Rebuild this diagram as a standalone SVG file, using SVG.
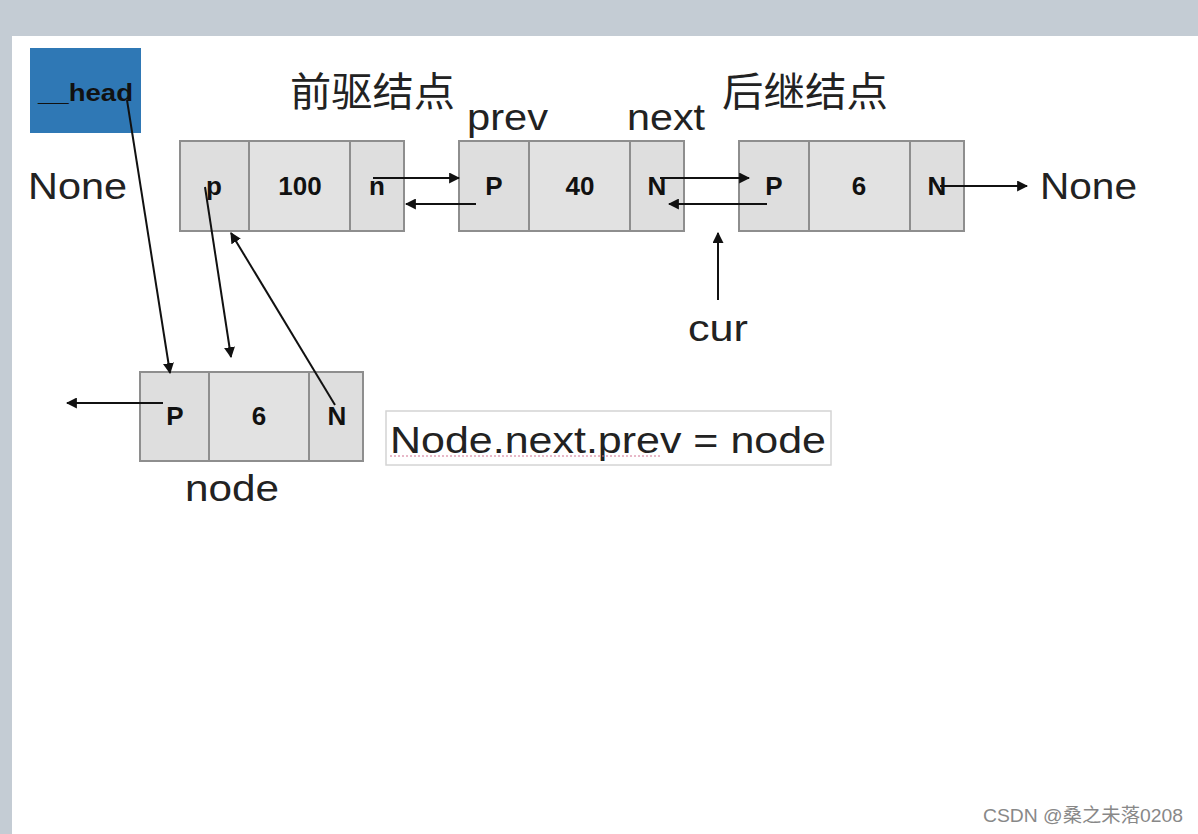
<svg xmlns="http://www.w3.org/2000/svg" width="1198" height="834" viewBox="0 0 1198 834">
<style>
.cell{fill:#dedede;stroke:#8e8e8e;stroke-width:2}
.mid{fill:#e2e2e2;stroke:#8e8e8e;stroke-width:2}
.lbl{font-family:"Liberation Sans",Arial,sans-serif;font-weight:bold;font-size:26px;fill:#111;text-anchor:middle}
.big{font-family:"Liberation Sans",Arial,sans-serif;font-size:37px;fill:#222}
.cn{font-family:"Noto Sans CJK SC",sans-serif;font-size:40px;fill:#222}
.ln{stroke:#111;stroke-width:2;fill:none;marker-end:url(#ah)}
</style>
<defs>
<marker id="ah" viewBox="0 0 10 10" refX="9" refY="5" markerWidth="5.5" markerHeight="5.5" orient="auto" markerUnits="strokeWidth">
<path d="M0,0 L10,5 L0,10 z" fill="#111"/>
</marker>
</defs>
<rect x="0" y="0" width="1198" height="834" fill="#c4ccd4"/>
<rect x="12" y="36" width="1186" height="798" fill="#ffffff"/>

<g id="head">
<rect x="30" y="48" width="111" height="85" fill="#2f78b5"/>
<text x="38" y="101" font-family="Liberation Sans,Arial,sans-serif" font-weight="bold" font-size="23" fill="#111" textLength="95" lengthAdjust="spacingAndGlyphs">__head</text>
</g>

<g id="labels">
<text x="290" y="106" class="cn" textLength="165" lengthAdjust="spacingAndGlyphs">前驱结点</text>
<text x="722" y="106" class="cn" textLength="166" lengthAdjust="spacingAndGlyphs">后继结点</text>
<text x="467" y="130" class="big" textLength="81" lengthAdjust="spacingAndGlyphs">prev</text>
<text x="627" y="130" class="big" textLength="78" lengthAdjust="spacingAndGlyphs">next</text>
<text x="28" y="199" class="big" textLength="99" lengthAdjust="spacingAndGlyphs">None</text>
<text x="1040" y="199" class="big" textLength="97" lengthAdjust="spacingAndGlyphs">None</text>
<text x="185" y="501" class="big" textLength="94" lengthAdjust="spacingAndGlyphs">node</text>
<text x="688" y="341" class="big" textLength="60" lengthAdjust="spacingAndGlyphs">cur</text>
</g>

<g id="node1">
<rect x="180" y="141" width="69" height="90" class="cell"/>
<rect x="249" y="141" width="101" height="90" class="mid"/>
<rect x="350" y="141" width="54" height="90" class="cell"/>
<text x="214" y="195" class="lbl">p</text>
<text x="300" y="195" class="lbl">100</text>
<text x="377" y="195" class="lbl">n</text>
</g>

<g id="node2">
<rect x="459" y="141" width="70" height="90" class="cell"/>
<rect x="529" y="141" width="101" height="90" class="mid"/>
<rect x="630" y="141" width="54" height="90" class="cell"/>
<text x="494" y="195" class="lbl">P</text>
<text x="580" y="195" class="lbl">40</text>
<text x="657" y="195" class="lbl">N</text>
</g>

<g id="node3">
<rect x="739" y="141" width="70" height="90" class="cell"/>
<rect x="809" y="141" width="101" height="90" class="mid"/>
<rect x="910" y="141" width="54" height="90" class="cell"/>
<text x="774" y="195" class="lbl">P</text>
<text x="859" y="195" class="lbl">6</text>
<text x="937" y="195" class="lbl">N</text>
</g>

<g id="node4">
<rect x="140" y="372" width="69" height="89" class="cell"/>
<rect x="209" y="372" width="100" height="89" class="mid"/>
<rect x="309" y="372" width="54" height="89" class="cell"/>
<text x="175" y="425" class="lbl">P</text>
<text x="259" y="425" class="lbl">6</text>
<text x="337" y="425" class="lbl">N</text>
</g>

<g id="code">
<rect x="386" y="411" width="445" height="54" fill="#fff" stroke="#d4d4d4" stroke-width="1.5"/>
<text x="390" y="453" class="big" textLength="436" lengthAdjust="spacingAndGlyphs">Node.next.prev = node</text>
<line x1="390" y1="456" x2="662" y2="456" stroke="#d07090" stroke-width="1" stroke-dasharray="2,2"/>
</g>

<g id="connectors">
<line x1="373" y1="178" x2="459" y2="178" class="ln"/>
<line x1="476" y1="204" x2="406" y2="204" class="ln"/>
<line x1="660" y1="178" x2="749" y2="178" class="ln"/>
<line x1="767" y1="204" x2="669" y2="204" class="ln"/>
<line x1="940" y1="186" x2="1027" y2="186" class="ln"/>
<line x1="718" y1="300" x2="718" y2="233" class="ln"/>
<line x1="127" y1="100" x2="170" y2="373" class="ln"/>
<line x1="205" y1="187" x2="231" y2="357" class="ln"/>
<line x1="335" y1="405" x2="231" y2="233" class="ln"/>
<line x1="163" y1="403" x2="67" y2="403" class="ln"/>
</g>

<text x="983" y="822" font-family="Liberation Sans,'Noto Sans CJK SC',sans-serif" font-size="19" fill="#888" textLength="200" lengthAdjust="spacingAndGlyphs">CSDN @桑之未落0208</text>
</svg>
